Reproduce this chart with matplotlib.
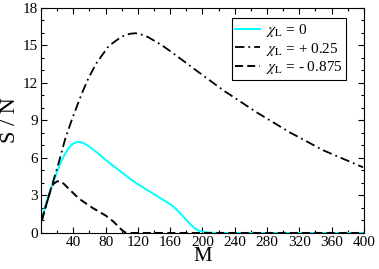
import matplotlib
matplotlib.use("Agg")
import matplotlib.pyplot as plt
from matplotlib.ticker import MultipleLocator

plt.rcParams['font.family'] = ['Liberation Serif', 'DejaVu Serif']
plt.rcParams['mathtext.fontset'] = 'stix'

# chi_L = 0 (cyan, solid)
m_0 = [1, 5, 10, 15, 20, 25, 30, 35, 40, 45, 50, 55, 60, 70, 80, 90, 100, 110, 120, 130, 140, 150, 160,
       165, 170, 175, 180, 185, 190, 195, 200, 205, 210, 220, 300, 400]
s_0 = [1.0, 2.1, 3.1, 4.0, 4.9, 5.7, 6.35, 6.85, 7.15, 7.27, 7.25, 7.1, 6.9, 6.4, 5.85, 5.35, 4.85, 4.35, 3.9, 3.5,
       3.1, 2.7, 2.3, 2.05, 1.75, 1.4, 1.05, 0.7, 0.4, 0.2, 0.1, 0.05, 0.02, 0.0, 0.0, 0.0]

# chi_L = +0.25 (black, dash-dot)
m_p = [1, 13, 22, 30, 38, 45, 51, 59, 69, 84, 100, 110, 117, 125, 133, 150, 162, 187, 226, 267, 308, 350, 399]
s_p = [1.0, 3.66, 5.6, 7.5, 9.0, 10.2, 11.2, 12.4, 13.6, 14.95, 15.7, 15.92, 15.97, 15.85, 15.65, 15.0, 14.45,
       13.25, 11.4, 9.65, 8.05, 6.6, 5.25]

# chi_L = -0.875 (black, dashed)
m_n = [1, 13, 16, 20, 24, 28, 35, 47, 64, 80, 90, 96, 100, 104, 108, 200, 400]
s_n = [1.0, 3.66, 3.95, 4.12, 4.15, 3.95, 3.5, 2.75, 2.0, 1.4, 0.9, 0.5, 0.25, 0.05, 0.0, 0.0, 0.0]

labels = [r'$\chi_{\rm L}$ = 0', r'$\chi_{\rm L}$ = + 0.25', r'$\chi_{\rm L}$ = - 0.875']

fig = plt.figure(figsize=(3.79, 2.69), dpi=100)
ax = fig.add_axes([0.108, 0.134, 0.852, 0.837])

ax.plot(m_0, s_0, color='cyan', linewidth=1.4, label=labels[0])
ax.plot(m_p, s_p, color='black', linewidth=1.3, linestyle=(0, (5.2, 2.2, 1.0, 2.2)), label=labels[1])
ax.plot(m_n, s_n, color='black', linewidth=1.4, linestyle=(0, (4.1, 2.2)), label=labels[2])

ax.set_xlim(0, 400)
ax.set_ylim(0, 18)
ax.set_xticks(range(40, 401, 40))
ax.xaxis.set_minor_locator(MultipleLocator(20))
ax.set_yticks(range(0, 19, 3))
ax.yaxis.set_minor_locator(MultipleLocator(1))
ax.tick_params(which='both', direction='in', top=True, right=True, labelsize=11, pad=2)
ax.tick_params(which='major', length=4.5, width=0.8)
ax.tick_params(which='minor', length=2.5, width=0.8)

ax.set_xlabel('M', fontsize=15, labelpad=-1)
ax.set_ylabel('S / N', fontsize=16, labelpad=2)

leg = ax.legend(loc='upper right', bbox_to_anchor=(0.946, 0.953), fontsize=11,
                frameon=True, fancybox=False, edgecolor='black', framealpha=1,
                handlelength=1.6, handletextpad=0.4, borderpad=0.25, labelspacing=0.1,
                borderaxespad=0)
leg.get_frame().set_linewidth(0.8)

fig.savefig('out.png', dpi=100)
